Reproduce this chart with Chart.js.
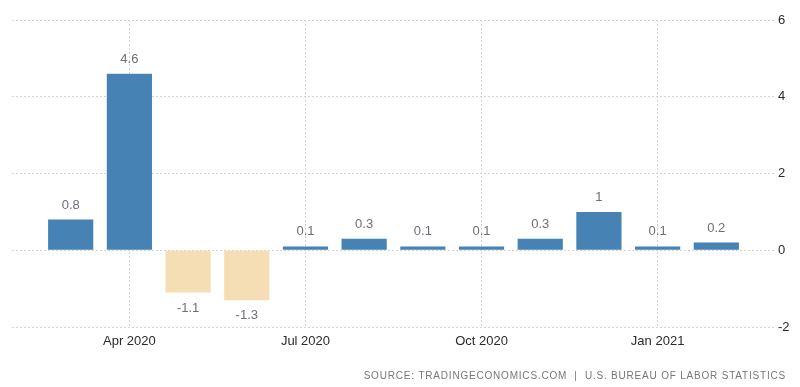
<!DOCTYPE html>
<html>
<head>
<meta charset="utf-8">
<script src="https://cdn.jsdelivr.net/npm/chart.js@4"></script>
<style>
  html, body { margin: 0; padding: 0; background: #fff; }
  #wrap { width: 800px; height: 387px; }
</style>
</head>
<body>
<div id="wrap"><canvas id="cpiChart" width="800" height="387"></canvas></div>
<script>
// one empty slot at each end, like the reference
const months = ["", "Mar 2020", "Apr 2020", "May 2020", "Jun 2020", "Jul 2020", "Aug 2020",
  "Sep 2020", "Oct 2020", "Nov 2020", "Dec 2020", "Jan 2021", "Feb 2021", ""];
const values = [null, 0.8, 4.6, -1.1, -1.3, 0.1, 0.3, 0.1, 0.1, 0.3, 1, 0.1, 0.2, null];
const shownMonths = ["Apr 2020", "Jul 2020", "Oct 2020", "Jan 2021"];
const yTicks = [-2, 0, 2, 4, 6];
const sourceText = "SOURCE: TRADINGECONOMICS.COM  |  U.S. BUREAU OF LABOR STATISTICS";

const valueLabels = {
  id: "valueLabels",
  afterDatasetsDraw(chart) {
    const ctx = chart.ctx;
    const meta = chart.getDatasetMeta(0);
    ctx.save();
    ctx.font = "13px 'Liberation Sans', Arial, sans-serif";
    ctx.fillStyle = "#6e6e78";
    ctx.textAlign = "center";
    meta.data.forEach((bar, i) => {
      const v = values[i];
      if (v === null || v === undefined) return;
      if (v >= 0) {
        ctx.textBaseline = "bottom";
        ctx.fillText(String(v), bar.x, bar.y - 8);
      } else {
        ctx.textBaseline = "top";
        ctx.fillText(String(v), bar.x, bar.y + 9);
      }
    });
    ctx.restore();
  }
};

const sourceLine = {
  id: "sourceLine",
  afterDraw(chart) {
    const ctx = chart.ctx;
    ctx.save();
    ctx.font = "10px 'Liberation Sans', Arial, sans-serif";
    ctx.letterSpacing = "0.8px";
    ctx.fillStyle = "#777";
    ctx.textAlign = "right";
    ctx.textBaseline = "middle";
    ctx.fillText(sourceText, 786, 376);
    ctx.restore();
  }
};

new Chart(document.getElementById("cpiChart"), {
  type: "bar",
  data: {
    labels: months,
    datasets: [{
      data: values,
      backgroundColor: values.map(v => v < 0 ? "#f5deb3" : "#4682b4"),
      barPercentage: 0.77,
      categoryPercentage: 1
    }]
  },
  options: {
    responsive: false,
    animation: false,
    layout: { padding: { top: 20, left: 12, right: 0, bottom: 0 } },
    plugins: {
      legend: { display: false },
      tooltip: { enabled: false }
    },
    scales: {
      x: {
        offset: false,
        afterFit(scale) { scale.height = 60; },
        grid: {
          offset: false,
          drawTicks: false,
          color: ctx => (ctx.tick && shownMonths.includes(months[ctx.index])) ? "#d4d4d4" : "rgba(0,0,0,0)"
        },
        border: { display: false, dash: [2, 2] },
        ticks: {
          autoSkip: false,
          maxRotation: 0,
          padding: 7,
          color: "#2a2a2a",
          font: { size: 13, family: "'Liberation Sans', Arial, sans-serif" },
          callback: (val, i) => shownMonths.includes(months[i]) ? months[i] : ""
        }
      },
      y: {
        position: "right",
        min: -2,
        max: 6,
        afterFit(scale) { scale.width = 25; },
        afterBuildTicks(scale) { scale.ticks = yTicks.map(v => ({ value: v })); },
        grid: { drawTicks: false, color: "#d4d4d4" },
        border: { display: false, dash: [2, 2] },
        ticks: {
          padding: 3,
          color: "#2a2a2a",
          font: { size: 13, family: "'Liberation Sans', Arial, sans-serif" }
        }
      }
    }
  },
  plugins: [valueLabels, sourceLine]
});
</script>
</body>
</html>
